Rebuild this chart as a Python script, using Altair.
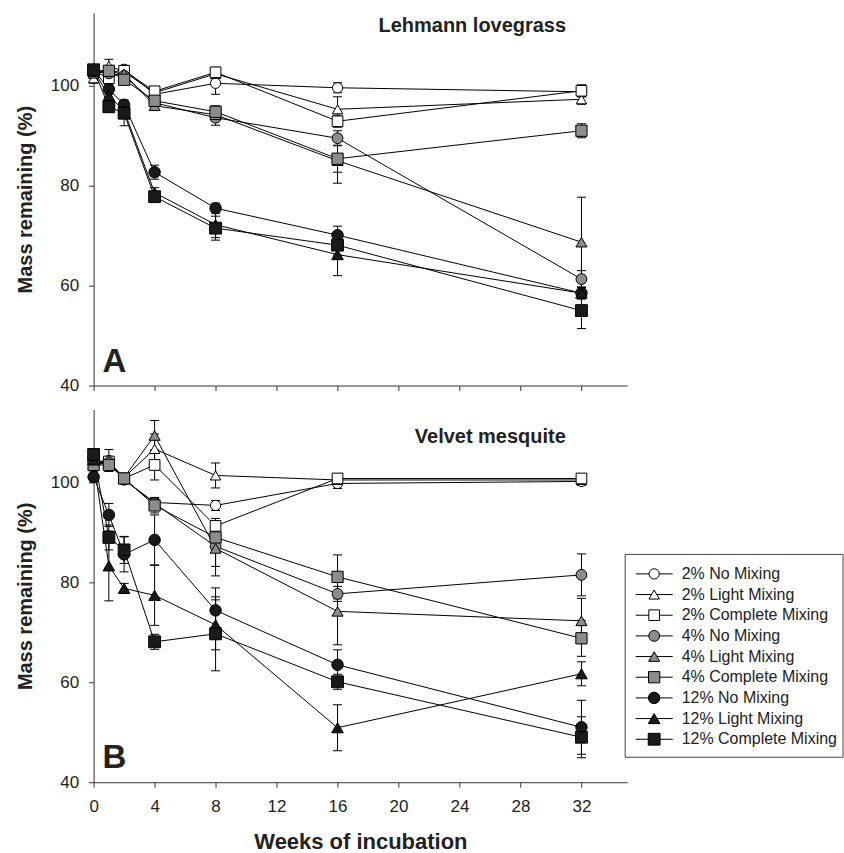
import altair as alt
import pandas as pd

weeks = [0, 1, 2, 4, 8, 16, 32]
x_ticks = [0, 4, 8, 12, 16, 20, 24, 28, 32]
y_ticks = [40, 60, 80, 100]

series = ["2% No Mixing", "2% Light Mixing", "2% Complete Mixing",
          "4% No Mixing", "4% Light Mixing", "4% Complete Mixing",
          "12% No Mixing", "12% Light Mixing", "12% Complete Mixing"]
panels = ["Lehmann lovegrass", "Velvet mesquite"]
panel_letters = ["A", "B"]

# ---- Lehmann lovegrass: mean mass remaining (%) ----
lg_2_no = [103.0, 102.5, 103.3, 98.3, 100.5, 99.6, 98.8]
lg_2_light = [101.5, 104.0, 102.8, 98.6, 102.4, 95.3, 97.3]
lg_2_complete = [103.0, 101.5, 103.0, 98.9, 102.7, 92.9, 99.0]
lg_4_no = [103.0, 102.5, 102.0, 96.6, 93.6, 89.5, 61.3]
lg_4_light = [102.5, 102.8, 102.4, 96.0, 94.2, 85.0, 68.7]
lg_4_complete = [103.0, 103.0, 101.2, 97.0, 94.8, 85.4, 91.0]
lg_12_no = [103.2, 99.3, 96.2, 82.7, 75.5, 70.1, 58.5]
lg_12_light = [103.0, 98.0, 95.0, 78.6, 72.2, 66.2, 58.5]
lg_12_complete = [103.2, 95.8, 94.5, 77.8, 71.5, 68.1, 55.0]
# error (half length of bars)
lg_2_no_err = [1.0, 1.0, 0.8, 0.8, 2.2, 1.0, 1.0]
lg_2_light_err = [1.0, 1.3, 0.8, 0.8, 1.0, 2.5, 1.0]
lg_2_complete_err = [1.0, 1.0, 0.8, 0.8, 1.0, 1.2, 1.2]
lg_4_no_err = [1.0, 1.0, 0.8, 0.8, 1.5, 1.5, 1.7]
lg_4_light_err = [1.0, 1.0, 0.8, 0.8, 1.0, 4.5, 9.0]
lg_4_complete_err = [1.0, 1.0, 0.8, 0.8, 1.2, 2.7, 1.4]
lg_12_no_err = [1.0, 1.0, 1.0, 1.4, 1.0, 1.8, 1.2]
lg_12_light_err = [1.0, 1.0, 1.5, 1.0, 2.6, 4.2, 1.0]
lg_12_complete_err = [1.0, 1.0, 2.5, 1.0, 2.4, 2.0, 3.6]

# ---- Velvet mesquite: mean mass remaining (%) ----
vm_2_no = [104.0, 104.4, 100.5, 96.0, 95.4, 99.8, 100.2]
vm_2_light = [103.5, 104.0, 101.0, 106.7, 101.4, 100.5, 100.5]
vm_2_complete = [104.3, 104.2, 100.8, 103.5, 91.3, 100.8, 100.8]
vm_4_no = [104.0, 104.0, 100.6, 95.8, 87.2, 77.7, 81.5]
vm_4_light = [103.8, 103.8, 101.0, 109.4, 86.8, 74.2, 72.3]
vm_4_complete = [103.5, 103.5, 100.8, 95.4, 89.0, 81.1, 68.8]
vm_12_no = [101.1, 93.5, 85.6, 88.5, 74.4, 63.5, 51.0]
vm_12_light = [104.5, 83.3, 78.8, 77.4, 71.5, 50.9, 61.7]
vm_12_complete = [105.6, 89.0, 86.5, 68.1, 69.7, 60.1, 49.0]
vm_2_no_err = [1.0, 2.2, 0.8, 1.0, 1.0, 1.0, 0.8]
vm_2_light_err = [1.0, 1.0, 0.8, 3.0, 2.5, 0.5, 0.5]
vm_2_complete_err = [1.0, 1.0, 0.8, 3.0, 1.5, 0.5, 0.5]
vm_4_no_err = [1.0, 1.0, 0.8, 1.0, 4.0, 1.5, 4.2]
vm_4_light_err = [1.0, 1.0, 0.8, 3.0, 5.5, 6.7, 4.5]
vm_4_complete_err = [1.0, 1.0, 0.8, 1.5, 3.0, 4.4, 3.6]
vm_12_no_err = [1.0, 2.3, 3.5, 5.0, 4.5, 3.0, 5.4]
vm_12_light_err = [1.0, 7.0, 1.0, 6.0, 5.0, 4.6, 2.4]
vm_12_complete_err = [1.0, 2.5, 2.7, 1.5, 7.4, 1.5, 4.1]

lg_means = [lg_2_no, lg_2_light, lg_2_complete, lg_4_no, lg_4_light,
            lg_4_complete, lg_12_no, lg_12_light, lg_12_complete]
lg_errs = [lg_2_no_err, lg_2_light_err, lg_2_complete_err, lg_4_no_err,
           lg_4_light_err, lg_4_complete_err, lg_12_no_err, lg_12_light_err,
           lg_12_complete_err]
vm_means = [vm_2_no, vm_2_light, vm_2_complete, vm_4_no, vm_4_light,
            vm_4_complete, vm_12_no, vm_12_light, vm_12_complete]
vm_errs = [vm_2_no_err, vm_2_light_err, vm_2_complete_err, vm_4_no_err,
           vm_4_light_err, vm_4_complete_err, vm_12_no_err, vm_12_light_err,
           vm_12_complete_err]

rows = []
for panel, means, errs in [(panels[0], lg_means, lg_errs),
                           (panels[1], vm_means, vm_errs)]:
    for s, m, e in zip(series, means, errs):
        for w, v, d in zip(weeks, m, e):
            rows.append({"panel": panel, "series": s, "week": w,
                         "value": v, "lo": v - d, "hi": v + d})
df = pd.DataFrame(rows)

# ---- styles ----
FONT = "Liberation Sans"
GRAY = "#8c8c8c"
BLACK = "#1a1a1a"
shapes = ["circle", "triangle-up", "square"] * 3
fills = ["white"] * 3 + [GRAY] * 3 + [BLACK] * 3
sizes = [105, 140, 100] * 3

W, H = 534, 373
x_scale = alt.Scale(domain=[0, 35], nice=False, zero=False)
y_scale = alt.Scale(domain=[40, 114.6], nice=False, zero=False)

shape_enc = alt.Shape("series:N", scale=alt.Scale(domain=series, range=shapes), legend=None)
fill_enc = alt.Fill("series:N", scale=alt.Scale(domain=series, range=fills), legend=None)
size_enc = alt.Size("series:N", scale=alt.Scale(domain=series, range=sizes), legend=None)

title_pos = [(379, 19), (397, 34)]
letter_pos = [(9, 359), (9, 359)]


def panel_chart(i):
    d = df[df.panel == panels[i]]
    base = alt.Chart(d)
    bottom = i == 1
    if bottom:
        x_axis = alt.Axis(values=x_ticks, title="Weeks of incubation",
                          titleFontSize=22, titlePadding=17, labelPadding=11)
    else:
        x_axis = alt.Axis(values=x_ticks, labels=False, title=None)
    y_axis = alt.Axis(values=y_ticks, title="Mass remaining (%)",
                      titlePadding=15, labelPadding=10)

    X = lambda f: alt.X(f, type="quantitative", scale=x_scale, axis=x_axis)
    Y = lambda f: alt.Y(f, type="quantitative", scale=y_scale, axis=y_axis)

    lines = base.mark_line(color="black", strokeWidth=1).encode(
        x=X("week"), y=Y("value"), detail="series:N")
    bars = base.mark_rule(color="black", strokeWidth=1).encode(
        x=X("week"), y=Y("lo"), y2="hi:Q")
    cap_lo = base.mark_tick(color="black", thickness=1, size=9,
                            orient="horizontal", opacity=1).encode(
        x=X("week"), y=Y("lo"))
    cap_hi = base.mark_tick(color="black", thickness=1, size=9,
                            orient="horizontal", opacity=1).encode(
        x=X("week"), y=Y("hi"))
    pts = base.mark_point(filled=True, opacity=1, stroke="black",
                          strokeWidth=1).encode(
        x=X("week"), y=Y("value"),
        shape=shape_enc, fill=fill_enc, size=size_enc)
    tdf = pd.DataFrame({"t": [panels[i]]})
    ldf = pd.DataFrame({"t": [panel_letters[i]]})
    ttl = alt.Chart(tdf).mark_text(font=FONT, fontSize=20, fontWeight="bold",
                                   align="center", baseline="alphabetic",
                                   color="#222").encode(
        text="t:N", x=alt.value(title_pos[i][0]), y=alt.value(title_pos[i][1]))
    let = alt.Chart(ldf).mark_text(font=FONT, fontSize=33, fontWeight="bold",
                                   align="left", baseline="alphabetic",
                                   color="#222").encode(
        text="t:N", x=alt.value(letter_pos[i][0]), y=alt.value(letter_pos[i][1]))
    plot = alt.layer(lines, bars, cap_lo, cap_hi, pts, ttl, let)
    if not bottom:
        return plot.properties(width=W, height=H)

    # ---- legend drawn as its own layer, rows placed by a point scale ----
    ldata = pd.DataFrame({"series": series})
    leg_y = alt.Y("series:N", scale=alt.Scale(type="point", domain=series,
                                              range=[164.5, 330], padding=0),
                  axis=None)
    box = alt.Chart(pd.DataFrame({"b": [0]})).mark_rect(
        fill="white", stroke="#444", strokeWidth=1).encode(
        x=alt.value(532), x2=alt.value(750), y=alt.value(145), y2=alt.value(348))
    lb = alt.Chart(ldata)
    leg_line = lb.mark_rule(color="black", strokeWidth=1).encode(
        x=alt.value(542.5), x2=alt.value(579.5), y=leg_y)
    leg_pts = lb.mark_point(filled=True, opacity=1, stroke="black",
                            strokeWidth=1).encode(
        x=alt.value(561), y=leg_y, shape=shape_enc, fill=fill_enc,
        size=alt.Size("series:N", scale=alt.Scale(domain=series, range=sizes), legend=None))
    leg_txt = lb.mark_text(align="left", baseline="middle", font=FONT,
                           fontSize=16, color="#222").encode(
        x=alt.value(588.5), y=leg_y, text="series:N")
    legend = alt.layer(box, leg_line, leg_pts, leg_txt)
    return alt.layer(plot, legend).resolve_scale(y="independent").properties(
        width=W, height=H)


chart = alt.vconcat(panel_chart(0), panel_chart(1), spacing=24,
                    bounds="flush").properties(
    padding={"left": 14.7, "top": 12.5, "right": 0, "bottom": 0}
).configure(font=FONT).configure_view(strokeWidth=0).configure_axis(
    grid=False, domainColor="#333", tickColor="#333", domainWidth=1,
    tickWidth=1, tickSize=5, labelFont=FONT, labelFontSize=17,
    labelColor="#222", labelFlush=False, titleFont=FONT, titleFontSize=20,
    titleFontWeight="bold", titleColor="#222"
)

chart.save("out.html", embed_options={"renderer": "svg", "actions": False})
